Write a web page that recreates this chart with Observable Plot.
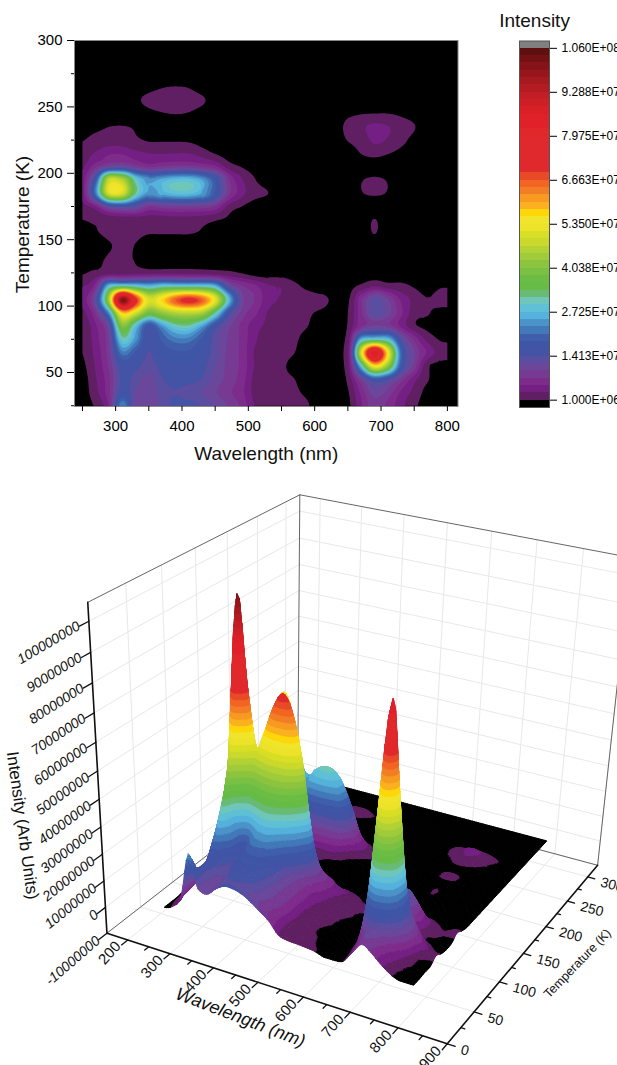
<!DOCTYPE html>
<html><head><meta charset="utf-8">
<script src="https://cdn.jsdelivr.net/npm/d3@7"></script>
<script src="https://cdn.jsdelivr.net/npm/@observablehq/plot@0.6"></script>
<style>
html,body{margin:0;padding:0;background:#fff}
#page{position:relative;width:617px;height:1065px;overflow:hidden;font-family:"Liberation Sans",Arial,sans-serif}
#page>svg,#page>figure{position:absolute;margin:0}
</style></head><body><div id="page"></div>
<script>
// ---- data (values in units of 1e6) ----
const wavelengths = d3.range(250, 800, 20);   // 250 … 790 nm
const temperatures = d3.range(25, 305, 10);   // 25 … 295 K
const intensity = [
/*25*/ [0,1.5,6,23,11,10,13,15,15,14,12,9.5,7,3,2,1.8,1.5,1.1,0,0,.5,5,9,7,4,1.5,0,0],
/*35*/ [0,2.5,7,16,12,10,13,14,13,12,10,8,6,2.5,2,1.5,1.2,.7,0,0,.8,6,11,9,5,2.5,.3,0],
/*45*/ [0,3,7,15,13,11,14,15,15,14,11,9,6.5,2.5,1.8,1.3,1,.3,0,0,1.5,10,18,15,9,4,1.2,.3],
/*55*/ [.5,3.5,8,16,15,13,15,16,16,15,12,9,7,3,1.6,1.2,.6,0,0,0,2.5,28,55,42,18,9,1.5,.3],
/*65*/ [1,4,9,22,18,14,17,18,18,16,13,9,7,3,2.5,1.5,1,.3,0,0,3,50,86,55,20,10,5,2.2],
/*75*/ [1.2,4.5,10,30,24,15,19,22,22,18,13,9.5,7,3.5,2.5,1.8,1.2,.5,0,0,2,26,30,28,14,7,2.5,.8],
/*85*/ [1.5,5,12,40,28,17,24,30,31,25,16,10.5,7,4,2.8,2.3,1.5,1,0,0,1.2,7,10,9,5,1.5,.4,0],
/*95*/ [2.5,8,24,58,50,38,42,46,47,45,32,16,9,6,3,2.5,2.2,1.3,.7,.3,1,7,13,11,6,2,1.2,.3],
/*105*/[4,13,45,101,72,50,56,66,71,66,52,28,11,7.5,4,3,2.5,2,1.6,.6,.8,7,13,10,5,2.5,1.1,2],
/*115*/[3,7,28,32,30,27,30,30,30,30,27,13,8,6,3.5,3,1.5,.5,0,0,.3,1.5,3,2,1.6,.8,0,.8],
/*125*/[.8,1.6,2.3,2.6,2.6,2.6,2.6,2.6,2.6,2.4,2,1.6,.9,.2,0,0,0,0,0,0,0,0,0,0,0,0,0,0],
/*135*/[0,.3,1.4,2,.8,0,0,0,0,0,0,0,0,0,0,0,0,0,0,0,0,0,0,0,0,0,0,0],
/*145*/[0,0,.8,1.5,.9,0,0,0,0,0,0,0,0,0,0,0,0,0,0,0,0,0,0,0,0,0,0,0],
/*155*/[.2,.8,1.5,1.8,1.5,1.1,1.1,1.1,1.1,.8,.3,0,0,0,0,0,0,0,0,0,0,0,1.05,0,0,0,0,0],
/*165*/[1,1.5,2,2.2,2.1,2,2,2.2,2.2,1.9,1.2,.6,0,0,0,0,0,0,0,0,0,0,1.05,0,0,0,0,0],
/*175*/[2.5,5,13,15,13,8,9,9.5,9.5,9,7.5,2.5,1,.1,0,0,0,0,0,0,0,0,0,0,0,0,0,0],
/*185*/[4,22,50,50,32,24,26,28,28,25,18,8.5,4,1.8,1,0,0,0,0,0,0,.9,1.2,.9,0,0,0,0],
/*195*/[4,18,48,46,30,24,26,28,28,25,18,8,3.5,1.1,.2,0,0,0,0,0,0,.9,1.2,.9,0,0,0,0],
/*205*/[2.8,7,11,12,9,7,8,8.5,8.5,7.5,6,2.2,.9,.2,0,0,0,0,0,0,0,.1,.3,.1,0,0,0,0],
/*215*/[1.8,3.5,5,5,4,3.2,3,3.2,3.2,2.2,.9,.2,0,0,0,0,0,0,0,0,0,1.05,1.5,1.1,.5,0,0,0],
/*225*/[.9,1.8,2.2,2.2,1.4,.8,.8,.8,.7,.3,0,0,0,0,0,0,0,0,0,0,1.1,2,3.6,3,1.6,.5,0,0],
/*235*/[0,.5,1,1.1,.8,.2,0,0,0,0,0,0,0,0,0,0,0,0,0,0,1.6,2.7,3.8,3.3,2,1.1,0,0],
/*245*/[0,0,0,0,0,.5,.9,1.05,.9,.3,0,0,0,0,0,0,0,0,0,0,.6,.9,1,1,.7,.3,0,0],
/*255*/[0,0,0,0,.6,1.6,2,2.1,2,1.3,.2,0,0,0,0,0,0,0,0,0,0,0,0,0,0,0,0,0],
/*265*/[0,0,0,0,0,.4,.9,1.05,.9,.2,0,0,0,0,0,0,0,0,0,0,0,0,0,0,0,0,0,0],
/*275*/[0,0,0,0,0,0,0,0,0,0,0,0,0,0,0,0,0,0,0,0,0,0,0,0,0,0,0,0],
/*285*/[0,0,0,0,0,0,0,0,0,0,0,0,0,0,0,0,0,0,0,0,0,0,0,0,0,0,0,0],
/*295*/[0,0,0,0,0,0,0,0,0,0,0,0,0,0,0,0,0,0,0,0,0,0,0,0,0,0,0,0]
];
// colour bar: 48 bands from 1.0e6 to 1.06e8, bottom to top
const bandColors = ["#5f1f62","#741f83","#7e2c8c","#763a93","#6a479b","#5a4ea0","#4353a5","#3f56a6","#3f5fac","#4279b8",
"#4c93c9","#55b2dc","#5fc0d6","#6fc7bb","#69bb74","#67bb47","#6cbd45","#7ac143","#8dc43f","#a0cb3b",
"#b2d235","#cbd92c","#d9df24","#ece32a","#f0e52a","#ffd60a","#fbb01f","#f79a22","#f37d25","#f26522",
"#e84a28","#e0292c","#e0292c","#e0292c","#e0292c","#e0292c","#e0282b","#e02129","#e02129","#d92027",
"#cf1f26","#c21e25","#b41b22","#a6191f","#97161b","#871318","#741114","#5e1010"];
const belowColor = "#000000", aboveColor = "#808080";
const levels = d3.range(49).map(k => 1e6 + k * 2.1875e6);
const colorTicks = [1e6, 14.125e6, 27.25e6, 40.375e6, 53.5e6, 66.625e6, 79.75e6, 92.875e6, 106e6];
const colorLabels = ["1.000E+06","1.413E+07","2.725E+07","4.038E+07","5.350E+07","6.663E+07","7.975E+07","9.288E+07","1.060E+08"];
const colorOpt = {type:"threshold", domain:levels, range:[belowColor, ...bandColors, aboveColor]};

const xMajor=[300,400,500,600,700,800], xMinor=[250,350,450,550,650,750];
const yMajor=[50,100,150,200,250,300], yMinor=[25,75,125,175,225,275];

// 3D axis ticks
const wlTicks=[200,300,400,500,600,700,800,900], wlMinor=[250,350,450,550,650,750,850];
const tTicks=[0,50,100,150,200,250,300], tMinor=[25,75,125,175,225,275];
const zTicks=[-10,0,10,20,30,40,50,60,70,80,90,100];

// camera calibration: [wavelength, temperature, intensity(1e6)] -> page pixel
const calibration=[
[150,0,-10,108,932],[200,0,-10,128.3,940],[300,0,-10,170,954],[400,0,-10,212.7,968.3],[500,0,-10,256.7,982.3],
[600,0,-10,301.7,996.7],[700,0,-10,349,1011.7],[800,0,-10,396,1027],[900,0,-10,446,1042],
[900,50,-10,473.3,1011.7],[900,100,-10,499,981.7],[900,150,-10,521.7,954],[900,200,-10,544.3,926],[900,250,-10,566.7,900],
[900,300,-10,587.3,876.7],[900,325,-10,596,863],
[150,0,100,88.8,619.3],[150,0,0,106,908.3],[150,0,106,87.6,602],[150,0,50,96.7,770],
[150,325,106,298,494.7],[900,325,106,631,558],
[800,25,0,418.3,985],[800,300,0,550,840.7],[250,25,0,161,905]
];

// ---- smooth lookup in the read-off table (slopes limited on monotone stretches) ----
function seg(a,b,c,d,t){
  const s0=b-a,s=c-b,s1=d-c;
  let m1=(c-a)/2,m2=(d-b)/2;
  if(s0*s>0) m1=Math.sign(s)*Math.min(Math.abs(m1),3*Math.abs(s0),3*Math.abs(s));
  if(s1*s>0) m2=Math.sign(s)*Math.min(Math.abs(m2),3*Math.abs(s1),3*Math.abs(s));
  const t2=t*t,t3=t2*t;
  return (2*t3-3*t2+1)*b+(t3-2*t2+t)*m1+(-2*t3+3*t2)*c+(t3-t2)*m2;
}
function surface(l,t){
  const nx=wavelengths.length, ny=temperatures.length;
  const fx=(l-250)/20, fy=(t-25)/10;
  const ix=Math.floor(fx), iy=Math.floor(fy), tx=fx-ix, ty=fy-iy;
  const at=(i,j)=>intensity[Math.max(0,Math.min(ny-1,j))][Math.max(0,Math.min(nx-1,i))];
  const r=[];
  for(let j=-1;j<=2;j++) r.push(seg(at(ix-1,iy+j),at(ix,iy+j),at(ix+1,iy+j),at(ix+2,iy+j),tx));
  return Math.max(0,seg(r[0],r[1],r[2],r[3],ty))*1e6;
}

// ---- projective camera fitted to the calibration points ----
const nu=l=>(l-150)/750, nv=t=>t/325, nw=z=>(z+10)/116;
function fitCamera(){
  const n=11, A=d3.range(n).map(()=>new Array(n+1).fill(0));
  const add=(row,b)=>{for(let i=0;i<n;i++){for(let j=0;j<n;j++)A[i][j]+=row[i]*row[j];A[i][n]+=row[i]*b;}};
  for(const [l,t,z,x,y] of calibration){
    const U=nu(l),V=nv(t),W=nw(z),X=x/1000,Y=y/1000;
    add([U,V,W,1,0,0,0,0,-X*U,-X*V,-X*W],X);
    add([0,0,0,0,U,V,W,1,-Y*U,-Y*V,-Y*W],Y);
  }
  for(let i=0;i<n;i++){
    let m=i;for(let r=i+1;r<n;r++)if(Math.abs(A[r][i])>Math.abs(A[m][i]))m=r;
    [A[i],A[m]]=[A[m],A[i]];
    for(let r=0;r<n;r++)if(r!==i){const f=A[r][i]/A[i][i];for(let c=i;c<=n;c++)A[r][c]-=f*A[i][c];}
  }
  return A.map((r,i)=>r[n]/r[i]);
}
const P=fitCamera();
function project(l,t,z){
  const U=nu(l),V=nv(t),W=nw(z);
  const w=P[8]*U+P[9]*V+P[10]*W+1;
  return {x:1000*(P[0]*U+P[1]*V+P[2]*W+P[3])/w, y:1000*(P[4]*U+P[5]*V+P[6]*W+P[7])/w, w};
}

// ---- mesh of the surface, split along the colour levels ----
function buildSurface(){
  const dl=5, dt=2.5, polys=[];
  const band=v=>d3.bisectRight(levels,v*1e6);
  const clip=(pts,lo,hi)=>{
    const cut=(p,keep,lim)=>{const o=[];for(let i=0;i<p.length;i++){const a=p[i],b=p[(i+1)%p.length];const ka=keep(a[2]),kb=keep(b[2]);
      if(ka)o.push(a);if(ka!==kb){const s=(lim-a[2])/(b[2]-a[2]);o.push([a[0]+s*(b[0]-a[0]),a[1]+s*(b[1]-a[1]),lim]);}}return o;};
    let o=pts; if(lo!=null)o=cut(o,z=>z>=lo,lo); if(o.length&&hi!=null)o=cut(o,z=>z<hi,hi); return o;
  };
  const emit=(pts,k)=>{ if(pts.length<3)return;
    const c=d3.mean(pts,p=>project(p[0],p[1],p[2]).w);
    polys.push({pts,k,c});
  };
  const tri=(a,b,c)=>{
    const ks=[a,b,c].map(p=>band(p[2])), k0=d3.min(ks),k1=d3.max(ks);
    for(let k=k0;k<=k1;k++){
      const lo=k>0?levels[k-1]/1e6:null, hi=k<levels.length?levels[k]/1e6:null;
      emit(clip([a,b,c],lo,hi),k);
    }
  };
  const L=d3.range(250,800+1e-6,dl), T=d3.range(25,300+1e-6,dt);
  const G=T.map(t=>L.map(l=>[l,t,surface(l,t)/1e6]));
  for(let j=0;j<T.length-1;j++)for(let i=0;i<L.length-1;i++){
    const a=G[j][i],b=G[j][i+1],c=G[j+1][i+1],d=G[j+1][i];
    const k=band(a[2]);
    if(band(b[2])===k&&band(c[2])===k&&band(d[2])===k) emit([a,b,c,d],k);
    else {tri(a,b,c);tri(a,c,d);}
  }
  polys.sort((p,q)=>q.c-p.c);
  const rows=[];
  polys.forEach((p,id)=>{const v=p.k>0?levels[p.k-1]:0;for(const q of p.pts){const s=project(q[0],q[1],q[2]);rows.push({id,x:s.x,y:s.y,v});}});
  return rows;
}

// ---- contour map ----
const page=document.getElementById("page");
const font='"Liberation Sans",Arial,sans-serif';
const map=Plot.plot({
  width:480,height:470,marginLeft:74,marginRight:22.5,marginTop:40,marginBottom:64,
  style:{fontFamily:font,background:"white",color:"black"},
  x:{domain:[238,816],axis:null},
  y:{domain:[24.4,300],axis:null},
  color:colorOpt,
  marks:[
    Plot.frame({fill:"black",stroke:"#888"}),
    Plot.contour({fill:surface,x1:250,x2:800,y1:25,y2:300,pixelSize:1,thresholds:levels.slice(0,48)}),
    Plot.axisX({ticks:xMajor,tickSize:5,tickPadding:9,fontSize:15,label:null,anchor:"bottom"}),
    Plot.axisX({ticks:xMinor,tickSize:5,tickFormat:()=>"",label:null,anchor:"bottom"}),
    Plot.axisY({ticks:yMajor,tickSize:7,tickPadding:5,fontSize:15,label:null,anchor:"left"}),
    Plot.axisY({ticks:yMinor,tickSize:3,tickFormat:()=>"",label:null,anchor:"left"}),
    Plot.text(["Wavelength (nm)"],{frameAnchor:"bottom",dy:53,fontSize:19,fill:"#111"}),
    Plot.text(["Temperature (K)"],{frameAnchor:"left",textAnchor:"middle",dx:-52,dy:1,rotate:-90,fontSize:19,fill:"#111"})
  ]
});
map.style.left="0px";map.style.top="0px";page.append(map);

// ---- colour bar ----
const barRows=[{lo:levels[0]-2.1875e6,hi:levels[0],v:0}].concat(
  d3.range(49).map(k=>({lo:levels[k],hi:levels[k]+2.1875e6,v:levels[k]})));
const bar=Plot.plot({
  width:200,height:410,marginLeft:19,marginRight:151,marginTop:40.5,marginBottom:3,
  style:{fontFamily:font,background:"transparent",color:"black"},
  x:{domain:[0,1],axis:null},
  y:{domain:[levels[0]-2.1875e6,levels[48]+2.1875e6],axis:null},
  color:colorOpt,
  marks:[
    Plot.rect(barRows,{x1:()=>0,x2:()=>1,y1:"lo",y2:"hi",fill:"v",inset:0,shapeRendering:"crispEdges"}),
    Plot.frame({stroke:"#555"}),
    Plot.axisY({anchor:"right",ticks:colorTicks,tickSize:7,tickPadding:5,fontSize:12,label:null,
      tickFormat:d=>colorLabels[colorTicks.indexOf(d)]}),
    Plot.text(["Intensity"],{frameAnchor:"top",dy:-28,dx:0,fontSize:19,fill:"#111"})
  ]
});
bar.style.left="500px";bar.style.top="0px";page.append(bar);

// ---- 3D plot ----
const lineRows=[];let lid=0;
const addLine=(a,b,kind)=>{const id=lid++;for(const p of [a,b]){const s=project(p[0],p[1],p[2]);lineRows.push({id,x:s.x,y:s.y,kind});}};
const Zmin=-10,Zmax=106,Lmin=150,Lmax=900,Tmin=0,Tmax=325;
for(const l of wlTicks){addLine([l,Tmin,Zmin],[l,Tmax,Zmin],"grid");addLine([l,Tmax,Zmin],[l,Tmax,Zmax],"grid");}
for(const t of tTicks){addLine([Lmin,t,Zmin],[Lmax,t,Zmin],"grid");addLine([Lmin,t,Zmin],[Lmin,t,Zmax],"grid");}
for(const z of zTicks){addLine([Lmin,Tmin,z],[Lmin,Tmax,z],"grid");addLine([Lmin,Tmax,z],[Lmax,Tmax,z],"grid");}
const grid=lineRows.filter(d=>d.kind==="grid");
const edgeRows=[];lid=1e5;
const addEdge=(a,b,arr)=>{const id=lid++;for(const p of [a,b]){const s=project(p[0],p[1],p[2]);arr.push({id,x:s.x,y:s.y});}};
addEdge([Lmin,Tmin,Zmax],[Lmin,Tmax,Zmax],edgeRows);
addEdge([Lmin,Tmax,Zmax],[Lmax,Tmax,Zmax],edgeRows);
addEdge([Lmin,Tmax,Zmin],[Lmin,Tmax,Zmax],edgeRows);
addEdge([Lmax,Tmax,Zmin],[Lmax,Tmax,Zmax],edgeRows);
addEdge([Lmin,Tmin,Zmin],[Lmin,Tmax,Zmin],edgeRows);
addEdge([Lmin,Tmax,Zmin],[Lmax,Tmax,Zmin],edgeRows);
const axisRows=[];
addEdge([Lmin,Tmin,Zmin],[Lmin,Tmin,Zmax],axisRows);
addEdge([Lmin,Tmin,Zmin],[Lmax,Tmin,Zmin],axisRows);
addEdge([Lmax,Tmin,Zmin],[Lmax,Tmax,Zmin],axisRows);
const tickRows=[];
for(const z of zTicks)addEdge([Lmin,0,z],[Lmin,-12,z],tickRows);
for(const l of wlTicks)addEdge([l,0,Zmin],[l,-9,Zmin],tickRows);
for(const l of wlMinor)addEdge([l,0,Zmin],[l,-6,Zmin],tickRows);
for(const t of tTicks)addEdge([Lmax,t,Zmin],[Lmax+16,t,Zmin],tickRows);
for(const t of tMinor)addEdge([Lmax,t,Zmin],[Lmax+8,t,Zmin],tickRows);

const zLabels=zTicks.map(z=>{const a=project(Lmin,-14,z),b=project(Lmin,60,z);
  return {x:a.x,y:a.y,rot:Math.atan2(b.y-a.y,b.x-a.x)*180/Math.PI-3,label:String(z*1e6)};});
const wlLabels=wlTicks.map(l=>{const a=project(l,-9,Zmin);return {x:a.x,y:a.y,label:String(l)};});
const tLabels=tTicks.map(t=>{const a=project(Lmax+16,t,Zmin);return {x:a.x,y:a.y,label:String(t)};});

const meshRows=buildSurface();
const chart=Plot.plot({
  width:617,height:595,margin:0,
  style:{fontFamily:font,background:"transparent",color:"black"},
  x:{domain:[0,617],range:[0,617],axis:null},
  y:{domain:[470,1065],range:[0,595],axis:null},
  color:colorOpt,
  marks:[
    Plot.line(grid,{x:"x",y:"y",z:"id",stroke:"#e8e8e8",strokeWidth:1}),
    Plot.line(edgeRows,{x:"x",y:"y",z:"id",stroke:"#666",strokeWidth:1}),
    Plot.line(meshRows,{x:"x",y:"y",z:"id",fill:"v",stroke:"v",strokeWidth:1,curve:"linear-closed"}),
    Plot.line(axisRows,{x:"x",y:"y",z:"id",stroke:"#111",strokeWidth:1.6}),
    Plot.line(tickRows,{x:"x",y:"y",z:"id",stroke:"#111",strokeWidth:1.3}),
    Plot.text(zLabels,{x:"x",y:"y",text:"label",rotate:"rot",textAnchor:"end",dx:1,dy:-2,fontSize:14,fontStyle:"italic",fill:"#111"}),
    Plot.text(wlLabels,{x:"x",y:"y",text:"label",rotate:-48,dx:-12,dy:8,fontSize:15,fill:"#111"}),
    Plot.text(tLabels,{x:"x",y:"y",text:"label",rotate:15,textAnchor:"start",dx:6,dy:3,fontSize:14,fill:"#111"}),
    Plot.text(["Intensity (Arb Units)"],{x:()=>22,y:()=>825,rotate:82,fontSize:17,fill:"#111"}),
    Plot.text(["Wavelength (nm)"],{x:()=>240,y:()=>1017,rotate:21,fontSize:18,fontStyle:"italic",fill:"#111"}),
    Plot.text(["Temperature (K)"],{x:()=>577,y:()=>963,rotate:-46,fontSize:12.5,fill:"#111"})
  ]
});
chart.style.left="0px";chart.style.top="470px";page.append(chart);
</script></body></html>
